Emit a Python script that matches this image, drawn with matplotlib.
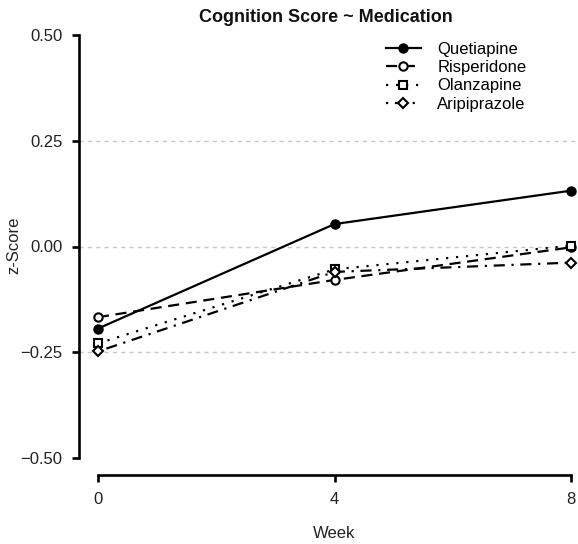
import numpy as np
import matplotlib
matplotlib.use('Agg')
import matplotlib.pyplot as plt

# =========================
# DATA
# =========================
weeks = [0, 4, 8]
quetiapine = [-0.194, 0.053, 0.132]
risperidone = [-0.167, -0.079, -0.002]
olanzapine = [-0.229, -0.054, 0.002]
aripiprazole = [-0.248, -0.060, -0.038]

y_ticks = [-0.50, -0.25, 0.00, 0.25, 0.50]
grid_levels = [-0.25, 0.00, 0.25]

plt.rcParams['font.family'] = ['Liberation Sans', 'DejaVu Sans']

W, H = 578, 544
fig = plt.figure(figsize=(W / 100, H / 100), dpi=100)
fig.patch.set_facecolor('white')

# plot region in pixels (R style, 4% padding on both axes)
left_px, right_px, top_px, bottom_px = 79, 590, 18, 475
ax = fig.add_axes([left_px / W, 1 - bottom_px / H,
                   (right_px - left_px) / W, (bottom_px - top_px) / H])
ax.set_xlim(-0.32, 8.32)
ax.set_ylim(-0.54, 0.54)

for lv in grid_levels:
    ax.axhline(lv, color='#c8c8c8', lw=1.0, ls=(0, (3, 3)), zorder=0)

series = [
    ('Quetiapine', quetiapine, '-', 'o', 'black'),
    ('Risperidone', risperidone, (0, (5, 3)), 'o', 'white'),
    ('Olanzapine', olanzapine, (0, (1, 3.5)), 's', 'white'),
    ('Aripiprazole', aripiprazole, (0, (1, 3, 5, 3)), 'D', 'white'),
]

for name, vals, ls, mk, fc in series:
    ax.plot(weeks, vals, color='black', lw=1.6, ls=ls, marker=mk,
            markersize=6 if mk != 'D' else 5, markerfacecolor=fc,
            markeredgecolor='black', markeredgewidth=1.5, label=name,
            clip_on=False)

for s in ['top', 'right']:
    ax.spines[s].set_visible(False)
ax.spines['left'].set_bounds(-0.5, 0.5)
ax.spines['bottom'].set_bounds(0, 8)
ax.spines['left'].set_linewidth(1.9)
ax.spines['bottom'].set_linewidth(1.9)

ax.set_xticks(weeks)
ax.set_yticks(y_ticks)
ax.set_yticklabels([f'{v:.2f}'.replace('-', '\u2212') for v in y_ticks])
ax.tick_params(axis='both', direction='out', length=5, width=1.9,
               labelsize=12, labelcolor='#222222', pad=7)

leg = ax.legend(loc='upper left',
                bbox_to_anchor=((379 - left_px) / (right_px - left_px),
                                1 - (35 - top_px) / (bottom_px - top_px)),
                frameon=False, fontsize=12, handlelength=2.1, handletextpad=1.0,
                labelspacing=0.2, borderaxespad=0)

fig.text(326 / W, 1 - 18 / H, 'Cognition Score ~ Medication', ha='center',
         va='center', fontsize=13, fontweight='bold', color='#111111')
fig.text(14 / W, 1 - 245 / H, 'z-Score', rotation=90, ha='center',
         va='center', fontsize=12, color='#222222')
fig.text(334 / W, 1 - 534 / H, 'Week', ha='center', va='center',
         fontsize=12, color='#222222')

fig.savefig('out.png', dpi=100)
